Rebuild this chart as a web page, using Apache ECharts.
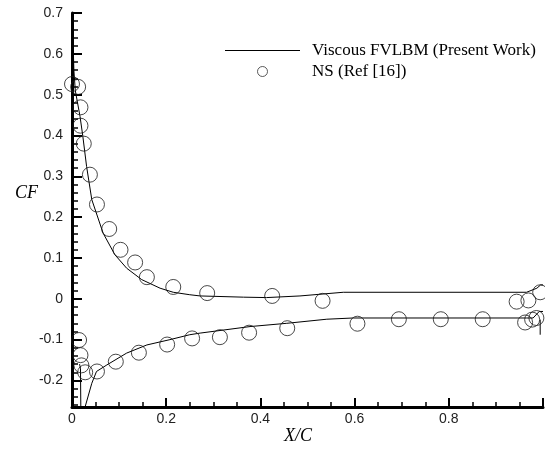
<!DOCTYPE html>
<html>
<head>
<meta charset="utf-8">
<script src="https://cdn.jsdelivr.net/npm/echarts@6/dist/echarts.min.js"></script>
<style>
html,body{margin:0;padding:0;background:#fff;}
#chart{width:545px;height:454px;}
</style>
</head>
<body>
<div id="chart"></div>
<script>
// ---- data ----
const seriesLineName = 'Viscous FVLBM (Present Work)';
const seriesPointName = 'NS (Ref [16])';

// FVLBM upper branch
const fvUpperX = [0.000, 0.004, 0.007, 0.017, 0.023, 0.031, 0.042, 0.066, 0.091, 0.116, 0.148, 0.187, 0.215, 0.250, 0.272, 0.364, 0.413, 0.484, 0.576, 0.965, 0.987, 0.995, 1.000];
const fvUpperY = [0.720, 0.560, 0.510, 0.447, 0.398, 0.324, 0.243, 0.161, 0.108, 0.075, 0.047, 0.026, 0.016, 0.010, 0.007, 0.004, 0.003, 0.007, 0.016, 0.016, 0.026, 0.034, 0.034];

// FVLBM lower branch
const fvLowerX = [0.016, 0.018, 0.019, 0.026, 0.028, 0.042, 0.052, 0.074, 0.116, 0.159, 0.208, 0.250, 0.272, 0.378, 0.456, 0.541, 0.597, 0.965, 0.979, 0.992, 1.000];
const fvLowerY = [-0.160, -0.170, -0.300, -0.300, -0.264, -0.207, -0.178, -0.162, -0.133, -0.113, -0.100, -0.088, -0.084, -0.068, -0.060, -0.050, -0.047, -0.047, -0.047, -0.031, -0.031];

// FVLBM trailing-edge stub
const fvTeX = [0.994, 0.994];
const fvTeY = [-0.051, -0.088];

// NS reference points, upper surface
const nsUpperX = [0.000, 0.013, 0.018, 0.018, 0.025, 0.038, 0.053, 0.079, 0.103, 0.134, 0.159, 0.215, 0.287, 0.425, 0.532, 0.944, 0.969, 0.994];
const nsUpperY = [0.526, 0.519, 0.469, 0.424, 0.380, 0.304, 0.231, 0.171, 0.120, 0.089, 0.053, 0.029, 0.014, 0.007, -0.005, -0.007, -0.004, 0.016];

// NS reference points, lower surface
const nsLowerX = [0.015, 0.018, 0.020, 0.028, 0.053, 0.093, 0.142, 0.202, 0.255, 0.314, 0.376, 0.457, 0.606, 0.694, 0.783, 0.872, 0.962, 0.977, 0.986];
const nsLowerY = [-0.101, -0.138, -0.163, -0.180, -0.178, -0.154, -0.132, -0.112, -0.097, -0.094, -0.083, -0.072, -0.061, -0.050, -0.050, -0.050, -0.058, -0.051, -0.047];

// axis settings
const xMin = 0, xMax = 1, xStep = 0.2;
const yMin = -0.265, yMax = 0.7;
const xTitle = 'X/C';
const yTitle = 'CF';

const zip = (xs, ys) => xs.map((x, i) => [x, ys[i]]);

const chart = echarts.init(document.getElementById('chart'), null, {renderer: 'canvas'});

const lineSeries = (data) => ({
  name: seriesLineName, type: 'line', data, symbol: 'none', smooth: false,
  lineStyle: {color: '#000', width: 1}, itemStyle: {color: '#000'}, clip: true, z: 3
});
const pointSeries = (data) => ({
  name: seriesPointName, type: 'scatter', data, symbol: 'circle', symbolSize: 15,
  itemStyle: {color: 'rgba(0,0,0,0)', borderColor: '#1a1a1a', borderWidth: 1},
  clip: false, z: 4
});

chart.setOption({
  animation: false,
  backgroundColor: '#fff',
  grid: {left: 72, right: 2, top: 13, bottom: 47, containLabel: false},
  legend: {
    orient: 'vertical', left: 225, top: 42, padding: 0,
    itemWidth: 75, itemHeight: 10, itemGap: 4,
    textStyle: {fontFamily: '"Liberation Serif"', fontSize: 17, lineHeight: 17, color: '#000', padding: [0, 0, 0, 7]},
    data: [
      {name: seriesLineName, icon: 'path://M0,0 L75,0 L75,1 L0,1 Z', itemStyle: {color: '#000', borderWidth: 0}},
      {name: seriesPointName, icon: 'circle', itemStyle: {color: 'rgba(0,0,0,0)', borderColor: '#333', borderWidth: 1}}
    ]
  },
  xAxis: {
    type: 'value', min: xMin, max: xMax, interval: xStep,
    axisLine: {show: true, onZero: false, lineStyle: {color: '#000', width: 3}},
    axisTick: {show: true, inside: true, length: 9, lineStyle: {color: '#000', width: 2}},
    minorTick: {show: true, splitNumber: 4, length: 5, lineStyle: {color: '#000', width: 1.5}},
    axisLabel: {show: true, showMaxLabel: false, margin: 5, color: '#222', fontFamily: 'Arial, "Liberation Sans"', fontSize: 14},
    splitLine: {show: false}
  },
  yAxis: {
    type: 'value', min: yMin, max: yMax, splitNumber: 10,
    axisLine: {show: true, onZero: false, lineStyle: {color: '#000', width: 3}},
    axisTick: {show: true, inside: true, length: 10, lineStyle: {color: '#000', width: 2}},
    minorTick: {show: true, splitNumber: 5, length: 6, lineStyle: {color: '#000', width: 1.5}},
    axisLabel: {show: true, showMinLabel: false, margin: 9, color: '#222', fontFamily: 'Arial, "Liberation Sans"', fontSize: 14},
    splitLine: {show: false}
  },
  graphic: [
    {type: 'text', left: 15, top: 184, style: {text: yTitle, font: 'italic 18px "Liberation Serif"', fill: '#000'}},
    {type: 'text', left: 284, top: 427, style: {text: xTitle, font: 'italic 18px "Liberation Serif"', fill: '#000'}}
  ],
  series: [
    lineSeries(zip(fvUpperX, fvUpperY)),
    lineSeries(zip(fvLowerX, fvLowerY)),
    lineSeries(zip(fvTeX, fvTeY)),
    pointSeries(zip(nsUpperX, nsUpperY)),
    pointSeries(zip(nsLowerX, nsLowerY))
  ]
});
</script>
</body>
</html>
